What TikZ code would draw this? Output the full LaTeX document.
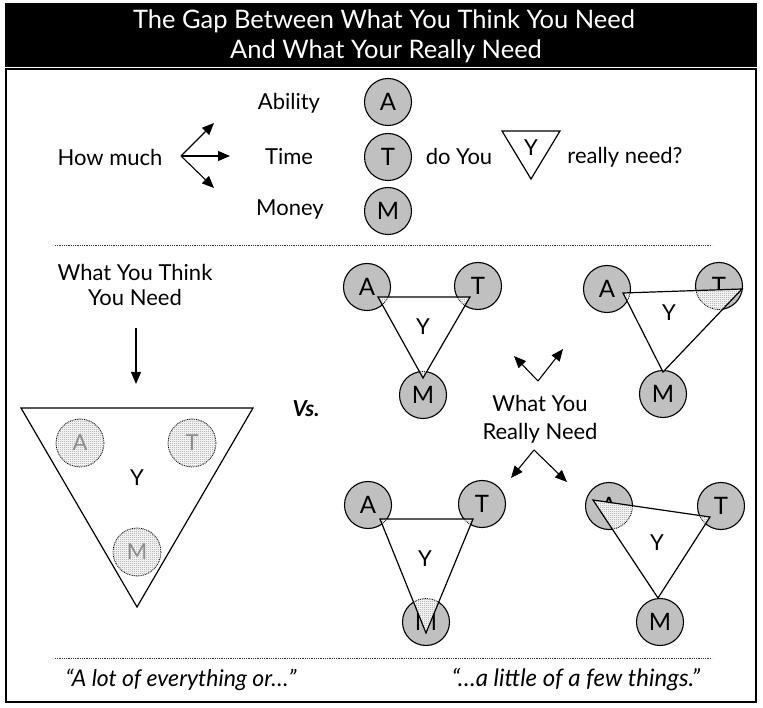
\documentclass[tikz,border=0pt]{standalone}
\usepackage{fontspec}
\setmainfont{Lato}
\usetikzlibrary{arrows.meta,patterns}
\definecolor{cgray}{RGB}{192,192,192}
\definecolor{stip}{RGB}{150,150,150}
\definecolor{faint}{RGB}{140,140,140}
\pgfdeclarepatternformonly{stipple}{\pgfqpoint{0pt}{0pt}}{\pgfqpoint{2pt}{2pt}}{\pgfqpoint{2pt}{2pt}}{%
  \pgfpathrectangle{\pgfqpoint{0pt}{0pt}}{\pgfqpoint{1pt}{1pt}}%
  \pgfpathrectangle{\pgfqpoint{1pt}{1pt}}{\pgfqpoint{1pt}{1pt}}%
  \pgfusepath{fill}}
\begin{document}
\begin{tikzpicture}[x=1pt,y=-1pt,
  txt/.style={font=\fontsize{22}{26}\selectfont, inner sep=0pt},
  ttl/.style={font=\fontsize{25.5}{28}\selectfont, text=white, inner sep=0pt},
  quo/.style={font=\fontsize{23}{26}\selectfont\itshape, inner sep=0pt},
  circ/.style={circle, draw, line width=1.1pt, fill=cgray, minimum size=47pt, inner sep=0pt, font=\fontsize{24}{26}\selectfont},
  arr/.style={-{Triangle[length=12pt,width=10pt]}, line width=1.1pt},
  tri/.style={draw, line width=1.2pt, line join=miter},
  stp/.style={fill=white, postaction={pattern=stipple, pattern color=stip}},
  dotl/.style={line width=0.8pt, dash pattern=on 0.9pt off 0.9pt},
  sep/.style={line width=0.7pt, dash pattern=on 0.9pt off 0.9pt, draw=black!80}]
\useasboundingbox (0,0) rectangle (763,708);
% frame and title
\fill[black] (5,3) rectangle (757,67);
\draw[line width=1.3pt] (6,69) rectangle (756,702);
\node[ttl] (t1) at (384,21) {The Gap Between What You Think You Need};
\node[ttl] (t2) at (386,51) {And What Your Really Need};
% top row
\node[txt] (how) at (110,157) {How much};
\coordinate (ho) at (181,156);
\coordinate (h1) at (214,123);
\coordinate (h2) at (230,156);
\coordinate (h3) at (214,188);
\draw[arr] (ho) -- (h1);
\draw[arr] (ho) -- (h2);
\draw[arr] (ho) -- (h3);
\node[txt] (abil) at (289,103) {Ability};
\node[txt] (time) at (289,157) {Time};
\node[txt] (mon) at (290,210) {Money};
\node[circ] (kA) at (388,102) {A};
\node[circ] (kT) at (388,157) {T};
\node[circ] (kM) at (388,211) {M};
\node[txt] (doy) at (459,156) {do You};
\coordinate (s1) at (502,131);
\coordinate (s2) at (560,131);
\coordinate (s3) at (531,179);
\draw[tri] (s1) -- (s2) -- (s3) -- cycle;
\node[txt] (sY) at (531,148) {Y};
\node[txt] (rn) at (625,157) {really need?};
\draw[sep] (55,245) -- (712,245);
% left part
\node[txt, align=center, font=\fontsize{22}{25}\selectfont] (wyt) at (135,285) {What You Think\\You Need};
\coordinate (wa) at (136,328);
\coordinate (wb) at (136,384);
\draw[arr] (wa) -- (wb);
\coordinate (b1) at (21,408);
\coordinate (b2) at (253,408);
\coordinate (b3) at (137,607);
\draw[tri, fill=white] (b1) -- (b2) -- (b3) -- cycle;
\foreach \n/\x/\y/\l in {bA/80/443/A, bT/192/443/T, bM/137/552/M}{
  \path[stp] (\x,\y) circle (24);
  \draw[dotl] (\x,\y) circle (24);
  \node[font=\fontsize{22}{24}\selectfont, text=faint, inner sep=0pt] (\n) at (\x,\y) {\l};
}
\node[txt] (bY) at (137,478) {Y};
\node[txt, font=\fontsize{22}{24}\selectfont\bfseries\itshape] (vs) at (306,409) {Vs.};
% top-left group
\node[circ] (aA) at (367,287) {A};
\node[circ] (aT) at (478,286) {T};
\node[circ] (aM) at (423,395) {M};
\coordinate (a1) at (378,297);
\coordinate (a2) at (470,297);
\coordinate (a3) at (423,378);
\fill[white] (a1) -- (a2) -- (a3) -- cycle;
\begin{scope}
\clip (a1) -- (a2) -- (a3) -- cycle;
\foreach \c in {aA,aT,aM}{\path[stp] (\c.center) circle (23.5); \draw[dotl] (\c.center) circle (23.5);}
\end{scope}
\draw[tri] (a1) -- (a2) -- (a3) -- cycle;
\node[txt] (aY) at (423,327) {Y};
% top-right group
\node[circ] (cA) at (607,289) {A};
\node[circ] (cT) at (719,286) {T};
\node[circ] (cM) at (663,394) {M};
\coordinate (c1) at (623,293);
\coordinate (c2) at (742,289);
\coordinate (c3) at (663,372);
\fill[white] (c1) -- (c2) -- (c3) -- cycle;
\begin{scope}
\clip (c1) -- (c2) -- (c3) -- cycle;
\foreach \c in {cA,cT,cM}{\path[stp] (\c.center) circle (23.5); \draw[dotl] (\c.center) circle (23.5);}
\end{scope}
\draw[tri] (c1) -- (c2) -- (c3) -- cycle;
\node[txt] (cY) at (669,313) {Y};
% middle label
\node[txt, align=center, font=\fontsize{22}{28}\selectfont] (wyr) at (540,419) {What You\\Really Need};
\coordinate (u0) at (538,381);
\coordinate (u1) at (514,356);
\coordinate (u2) at (563,349);
\draw[arr] (u0) -- (u1);
\draw[arr] (u0) -- (u2);
\coordinate (d0) at (534,450);
\coordinate (d1) at (511,478);
\coordinate (d2) at (567,482);
\draw[arr] (d0) -- (d1);
\draw[arr] (d0) -- (d2);
% bottom-left group
\node[circ] (eA) at (368,505) {A};
\node[circ] (eT) at (482,504) {T};
\node[circ] (eM) at (426,622) {M};
\coordinate (e1) at (380,519);
\coordinate (e2) at (473,519);
\coordinate (e3) at (426,633);
\fill[white] (e1) -- (e2) -- (e3) -- cycle;
\begin{scope}
\clip (e1) -- (e2) -- (e3) -- cycle;
\foreach \c in {eA,eT,eM}{\path[stp] (\c.center) circle (23.5); \draw[dotl] (\c.center) circle (23.5);}
\end{scope}
\draw[tri] (e1) -- (e2) -- (e3) -- cycle;
\node[txt] (eY) at (425,559) {Y};
% bottom-right group
\node[circ] (gA) at (609,506) {A};
\node[circ] (gT) at (721,506) {T};
\node[circ] (gM) at (660,622) {M};
\coordinate (g1) at (593,500);
\coordinate (g2) at (710,517);
\coordinate (g3) at (658,598);
\fill[white] (g1) -- (g2) -- (g3) -- cycle;
\begin{scope}
\clip (g1) -- (g2) -- (g3) -- cycle;
\foreach \c in {gA,gT,gM}{\path[stp] (\c.center) circle (23.5); \draw[dotl] (\c.center) circle (23.5);}
\end{scope}
\draw[tri] (g1) -- (g2) -- (g3) -- cycle;
\node[txt] (gY) at (657,543) {Y};
% bottom
\draw[sep] (55,658) -- (712,658);
\node[quo] (q1) at (181,680) {“A lot of everything or…”};
\node[quo, font=\fontsize{24}{26}\selectfont\itshape] (q2) at (576,680) {“…a little of a few things.”};
\end{tikzpicture}
\end{document}
